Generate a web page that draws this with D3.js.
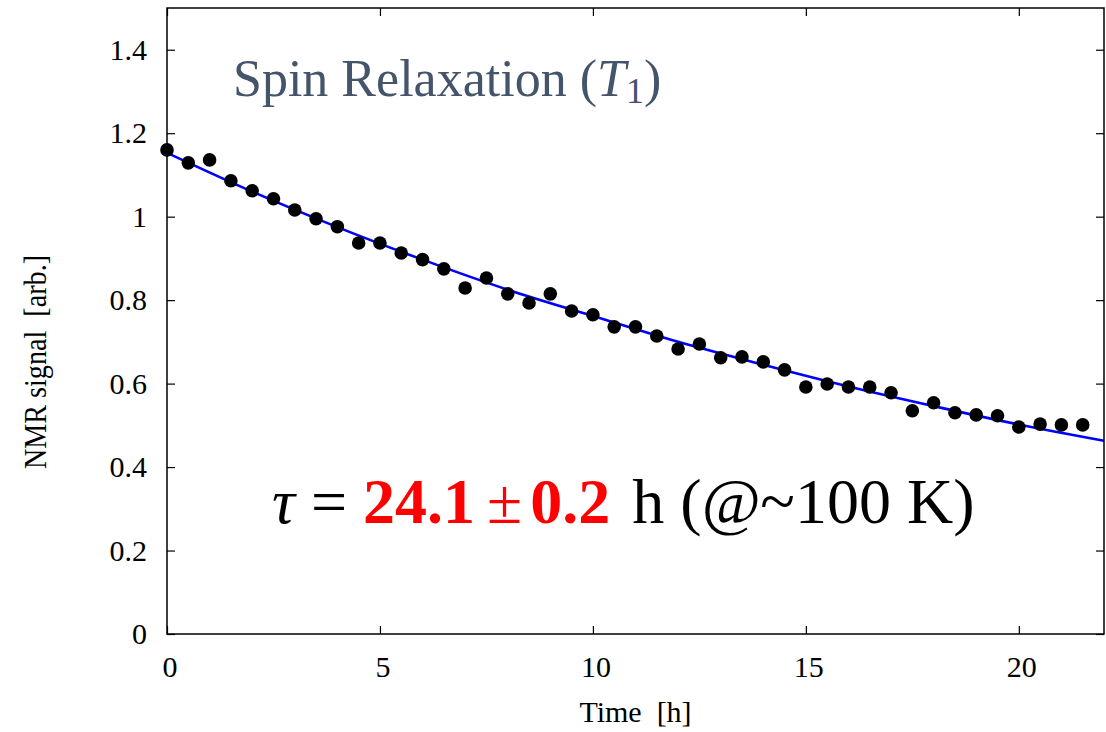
<!DOCTYPE html>
<html>
<head>
<meta charset="utf-8">
<script src="https://cdn.jsdelivr.net/npm/d3@7"></script>
<style>
  body { margin: 0; background: #fff; }
  text, tspan { font-family: "Liberation Serif", "Times New Roman", serif; }
</style>
</head>
<body>
<svg id="chart" width="1106" height="732"></svg>
<script>
// measured NMR signal, one point every half hour
var times = [0, 0.5, 1, 1.5, 2, 2.5, 3, 3.5, 4, 4.5, 5, 5.5, 6, 6.5, 7, 7.5, 8, 8.5, 9, 9.5,
             10, 10.5, 11, 11.5, 12, 12.5, 13, 13.5, 14, 14.5, 15, 15.5, 16, 16.5, 17, 17.5,
             18, 18.5, 19, 19.5, 20, 20.5, 21, 21.5];
var signal = [1.160, 1.129, 1.136, 1.086, 1.062, 1.043, 1.016, 0.995, 0.976, 0.937, 0.937,
              0.913, 0.897, 0.875, 0.829, 0.853, 0.815, 0.793, 0.815, 0.774, 0.765, 0.736,
              0.736, 0.714, 0.683, 0.695, 0.662, 0.664, 0.652, 0.633, 0.592, 0.599, 0.592,
              0.592, 0.578, 0.535, 0.554, 0.530, 0.525, 0.523, 0.496, 0.503, 0.501, 0.501];

// fitted curve
var fitTimes = [0, 2, 4, 6, 8, 10, 12, 14, 16, 18, 20, 22];
var fitValues = [1.153, 1.060, 0.975, 0.897, 0.825, 0.762, 0.700, 0.645, 0.593, 0.546, 0.502, 0.463];

var xTicks = [0, 5, 10, 15, 20];
var yTicks = [0, 0.2, 0.4, 0.6, 0.8, 1, 1.2, 1.4];

var margin = {left: 167, right: 2, top: 8, bottom: 98}
  , width = 1106
  , height = 732;

var svg = d3.select("#chart");

var x = d3.scaleLinear().domain([0, 22]).range([margin.left, width - margin.right]);
var y = d3.scaleLinear().domain([0, 1.5]).range([height - margin.bottom, margin.top]);

var tickLen = 8;

// axes, ticks pointing inward and mirrored
svg.append("g")
    .attr("transform", "translate(0," + y(0) + ")")
    .call(d3.axisBottom(x).tickValues(xTicks).tickSizeInner(-tickLen).tickSizeOuter(0).tickFormat(""))
    .call(function(g){ g.select(".domain").remove(); });
svg.append("g")
    .attr("transform", "translate(0," + y(1.5) + ")")
    .call(d3.axisTop(x).tickValues(xTicks).tickSizeInner(-tickLen).tickSizeOuter(0).tickFormat(""))
    .call(function(g){ g.select(".domain").remove(); });
svg.append("g")
    .attr("transform", "translate(" + x(0) + ",0)")
    .call(d3.axisLeft(y).tickValues(yTicks).tickSizeInner(-tickLen).tickSizeOuter(0).tickFormat(""))
    .call(function(g){ g.select(".domain").remove(); });
svg.append("g")
    .attr("transform", "translate(" + x(22) + ",0)")
    .call(d3.axisRight(y).tickValues(yTicks).tickSizeInner(-tickLen).tickSizeOuter(0).tickFormat(""))
    .call(function(g){ g.select(".domain").remove(); });

svg.selectAll(".tick line").attr("stroke", "#000").attr("stroke-width", 1.2);

svg.selectAll(".xlab")
    .data(xTicks)
  .enter().append("text")
    .attr("x", function(d){ return x(d) + 3; })
    .attr("y", y(0) + 43)
    .attr("text-anchor", "middle")
    .attr("font-size", 30)
    .text(function(d){ return d; });

svg.selectAll(".ylab")
    .data(yTicks)
  .enter().append("text")
    .attr("x", x(0) - 20)
    .attr("y", function(d){ return y(d) + 10; })
    .attr("text-anchor", "end")
    .attr("font-size", 30)
    .text(function(d){ return d; });

svg.append("text")
    .attr("x", (x(0) + x(22)) / 2)
    .attr("y", 722)
    .attr("text-anchor", "middle")
    .attr("font-size", 30)
    .style("white-space", "pre")
    .text("Time  [h]");

// y title is drawn narrow, as in the original
svg.append("text")
    .attr("transform", "translate(46,362) rotate(-90) scale(0.88,1)")
    .attr("text-anchor", "middle")
    .attr("font-size", 32)
    .style("white-space", "pre")
    .text("NMR signal  [arb.]");

// fit line
var line = d3.line()
    .x(function(d){ return x(d[0]); })
    .y(function(d){ return y(d[1]); })
    .curve(d3.curveMonotoneX);

svg.append("path")
    .datum(d3.zip(fitTimes, fitValues))
    .attr("fill", "none")
    .attr("stroke", "#0000ff")
    .attr("stroke-width", 2.6)
    .attr("d", line);

svg.selectAll(".pt")
    .data(d3.zip(times, signal))
  .enter().append("circle")
    .attr("cx", function(d){ return x(d[0]); })
    .attr("cy", function(d){ return y(d[1]); })
    .attr("r", 6.8)
    .attr("fill", "#000");

// frame
svg.append("rect")
    .attr("x", x(0))
    .attr("y", y(1.5))
    .attr("width", x(22) - x(0))
    .attr("height", y(0) - y(1.5))
    .attr("fill", "none")
    .attr("stroke", "#000")
    .attr("stroke-width", 1.5);

// annotations
var title = svg.append("text")
    .attr("x", 233)
    .attr("y", 96)
    .attr("font-size", 52)
    .attr("fill", "#44546a");
title.append("tspan").text("Spin Relaxation (");
title.append("tspan").attr("font-style", "italic").text("T");
title.append("tspan").attr("font-style", "normal").attr("font-size", 36).attr("dy", 7).text("1");
title.append("tspan").attr("font-size", 52).attr("dy", -7).text(")");

var tau = svg.append("text")
    .attr("x", 272)
    .attr("y", 523)
    .attr("font-size", 64)
    .style("white-space", "pre");
tau.append("tspan").attr("font-style", "italic").text("τ");
tau.append("tspan").text(" = ");
tau.append("tspan").attr("fill", "#ff0000").attr("font-weight", "bold").text("24.1");
tau.append("tspan").attr("fill", "#ff0000").attr("dx", 12).text("±");
tau.append("tspan").attr("fill", "#ff0000").attr("font-weight", "bold").attr("dx", 8).text("0.2");
tau.append("tspan").attr("dx", 6).text(" h (");
tau.append("tspan").attr("font-style", "italic").text("@");
tau.append("tspan").text("~100 K)");
</script>
</body>
</html>
